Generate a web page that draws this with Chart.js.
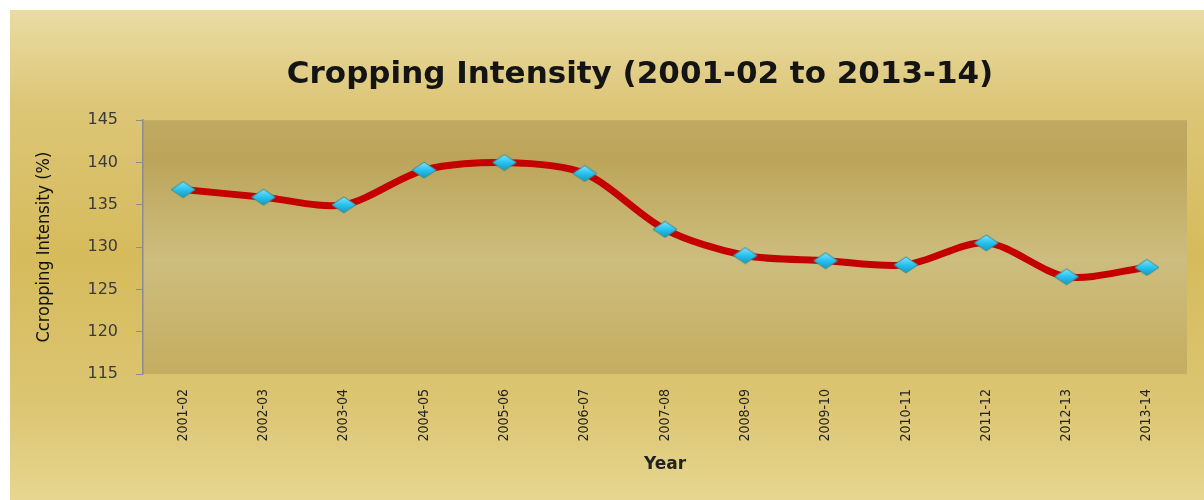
<!DOCTYPE html>
<html>
<head>
<meta charset="utf-8">
<script src="https://cdn.jsdelivr.net/npm/chart.js@4/dist/chart.umd.min.js"></script>
<style>
  html, body { margin: 0; padding: 0; background: #fff; }
  #wrap { position: absolute; left: 0; top: 0; width: 1204px; height: 500px; }
</style>
</head>
<body>
<div id="wrap"><canvas id="ci-chart" width="1204" height="500"></canvas></div>
<script>
const years = ['2001-02', '2002-03', '2003-04', '2004-05', '2005-06', '2006-07', '2007-08',
  '2008-09', '2009-10', '2010-11', '2011-12', '2012-13', '2013-14'];
const intensity = [136.8, 135.9, 135.0, 139.1, 140.0, 138.7, 132.1, 129.0, 128.4, 127.9, 130.5, 126.5, 127.6];
const yTicks = [115, 120, 125, 130, 135, 140, 145];

// flat diamond marker like the excel one
const makeDiamond = () => {
  const c = document.createElement('canvas');
  c.width = 26;
  c.height = 18;
  const g = c.getContext('2d');
  g.beginPath();
  g.moveTo(1, 9);
  g.lineTo(13, 1);
  g.lineTo(25, 9);
  g.lineTo(13, 17);
  g.closePath();
  const grad = g.createLinearGradient(0, 1, 0, 17);
  grad.addColorStop(0, '#7fe3ff');
  grad.addColorStop(0.5, '#27c3ef');
  grad.addColorStop(1, '#1598c4');
  g.fillStyle = grad;
  g.fill();
  g.strokeStyle = '#3c8a8c';
  g.lineWidth = 1;
  g.stroke();
  return c;
};
const diamond = makeDiamond();

const bgPlugin = {
  id: 'bgPlugin',
  afterLayout(chart) {
    // title sits a bit right of the canvas centre in the original
    const t = chart.titleBlock;
    if (t) {
      t.left += 33;
      t.right += 33;
    }
  },
  beforeDraw(chart) {
    const {ctx, chartArea: a, width, height} = chart;
    ctx.save();
    ctx.fillStyle = '#ffffff';
    ctx.fillRect(0, 0, width, height);
    // outer gold panel
    let g = ctx.createLinearGradient(0, 10, 0, height);
    g.addColorStop(0, '#e9dca3');
    g.addColorStop(0.2, '#dcc576');
    g.addColorStop(0.5, '#d6bb5c');
    g.addColorStop(0.8, '#dcc572');
    g.addColorStop(1, '#e6d68f');
    ctx.fillStyle = g;
    ctx.fillRect(10, 10, width - 10, height - 10);
    // plot area
    g = ctx.createLinearGradient(0, a.top, 0, a.bottom);
    g.addColorStop(0, '#c0aa62');
    g.addColorStop(0.15, '#bca55a');
    g.addColorStop(0.55, '#cdbd7e');
    g.addColorStop(1, '#c4ad60');
    ctx.fillStyle = g;
    ctx.fillRect(a.left, a.top, a.right - a.left, a.bottom - a.top);
    ctx.restore();
  }
};

const ctx = document.getElementById('ci-chart');

new Chart(ctx, {
  type: 'line',
  data: {
    labels: years,
    datasets: [{
      label: 'Cropping Intensity',
      data: intensity,
      borderColor: '#c40000',
      borderWidth: 7,
      tension: 0.3,
      pointStyle: diamond,
      pointRadius: 10,
      fill: false
    }]
  },
  options: {
    responsive: false,
    animation: { duration: 0 },
    layout: {
      padding: { top: 20, left: 20, right: 10, bottom: 0 }
    },
    scales: {
      y: {
        min: 115,
        max: 145,
        afterFit: (scale) => { scale.width = 123; },
        afterBuildTicks: (scale) => { scale.ticks = yTicks.map(v => ({value: v})); },
        border: { display: true, color: '#8c8c8c', width: 1.5 },
        grid: { drawOnChartArea: false, tickLength: 7, color: '#8c8c8c' },
        ticks: {
          padding: 18,
          color: '#3a3a3a',
          font: { family: 'DejaVu Sans', size: 16 }
        },
        title: {
          display: true,
          text: 'Ccropping Intensity (%)',
          color: '#111',
          padding: { top: 14, bottom: 0 },
          font: { family: "'Liberation Sans Narrow', 'DejaVu Sans Condensed', sans-serif", size: 18 }
        }
      },
      x: {
        offset: true,
        afterFit: (scale) => { scale.height = 126; },
        border: { display: false },
        grid: { display: false },
        ticks: {
          minRotation: 90,
          maxRotation: 90,
          padding: 7,
          color: '#222',
          font: { family: "'Liberation Sans Narrow', 'DejaVu Sans Condensed', sans-serif", size: 14 }
        },
        title: {
          display: true,
          text: 'Year',
          color: '#222',
          padding: { top: 0, bottom: 25 },
          font: { family: 'DejaVu Sans', size: 17, weight: 'bold' }
        }
      }
    },
    plugins: {
      legend: { display: false },
      tooltip: { enabled: false },
      title: {
        display: true,
        text: 'Cropping Intensity (2001-02 to 2013-14)',
        color: '#141414',
        padding: { top: 36, bottom: 27 },
        font: { family: 'DejaVu Sans', size: 31, weight: 'bold', lineHeight: 1.2 }
      }
    }
  },
  plugins: [bgPlugin]
});
</script>
</body>
</html>
